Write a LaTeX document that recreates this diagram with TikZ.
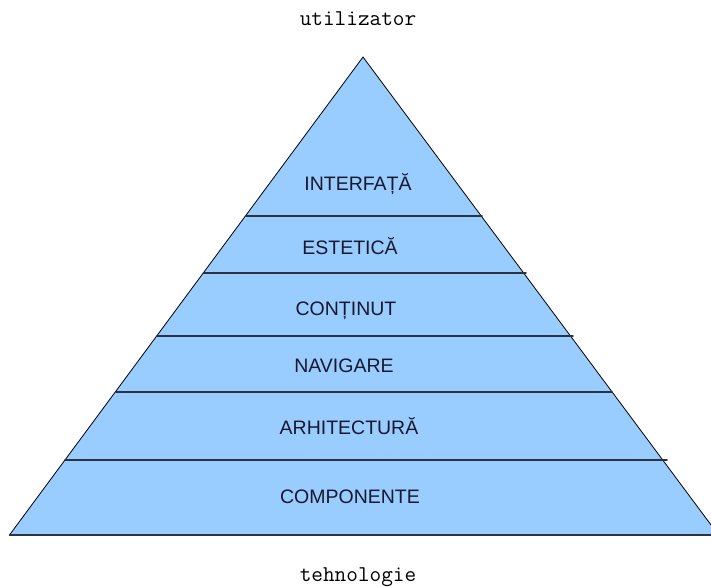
\documentclass[tikz,border=0pt]{standalone}
\usepackage{fontspec}
\setmainfont{Liberation Sans}
\usepackage{pgf,tikz}
\usetikzlibrary{arrows}
\definecolor{99ccff}{rgb}{0.6,0.8,1}
\definecolor{2b3340}{rgb}{0.17,0.2,0.25}
\definecolor{1a1a2e}{rgb}{0.1,0.1,0.18}

\begin{document}
\begin{tikzpicture}[line cap=round,line join=round,x=1pt,y=-1pt,
    level/.style={anchor=base,color=1a1a2e,font=\fontsize{19.5}{23}\selectfont},
    side/.style={anchor=base,color=black,font=\ttfamily\fontsize{22.6}{26}\selectfont}]
		\useasboundingbox (0,0) rectangle (711,586);
		\clip (0,0) rectangle (711,586);
			\fill[color=99ccff,fill=99ccff] (363,57) -- (718.5,535) -- (9.5,535) -- cycle;
			\draw [color=black,line width=0.8pt] (363,57)-- (718.5,535);
			\draw [color=black,line width=0.8pt] (363,57)-- (9.5,535);
		\draw [color=2b3340,line width=1.8pt] (246,215.7)-- (482,215.7);
		\draw [color=2b3340,line width=1.8pt] (203.5,273.3)-- (526,273.3);
		\draw [color=2b3340,line width=1.8pt] (157,336)-- (573,336);
		\draw [color=2b3340,line width=1.8pt] (116,392)-- (612,392);
		\draw [color=2b3340,line width=1.8pt] (65,460)-- (667,460);
		\draw [color=2b3340,line width=1.8pt] (9.5,535)-- (711,535);
		\node[level] (interfata) at (358,190) {INTERFAȚĂ};
		\node[level] (estetica) at (350,254) {ESTETICĂ};
		\node[level] (continut) at (346,315) {CONȚINUT};
		\node[level] (navigare) at (344,372) {NAVIGARE};
		\node[level] (arhitectura) at (349,434) {ARHITECTURĂ};
		\node[level] (componente) at (350,503) {COMPONENTE};
		\node[side] (utilizator) at (358,26) {utilizator};
		\node[side] (tehnologie) at (358,581) {tehnologie};
	\end{tikzpicture}
\end{document}
